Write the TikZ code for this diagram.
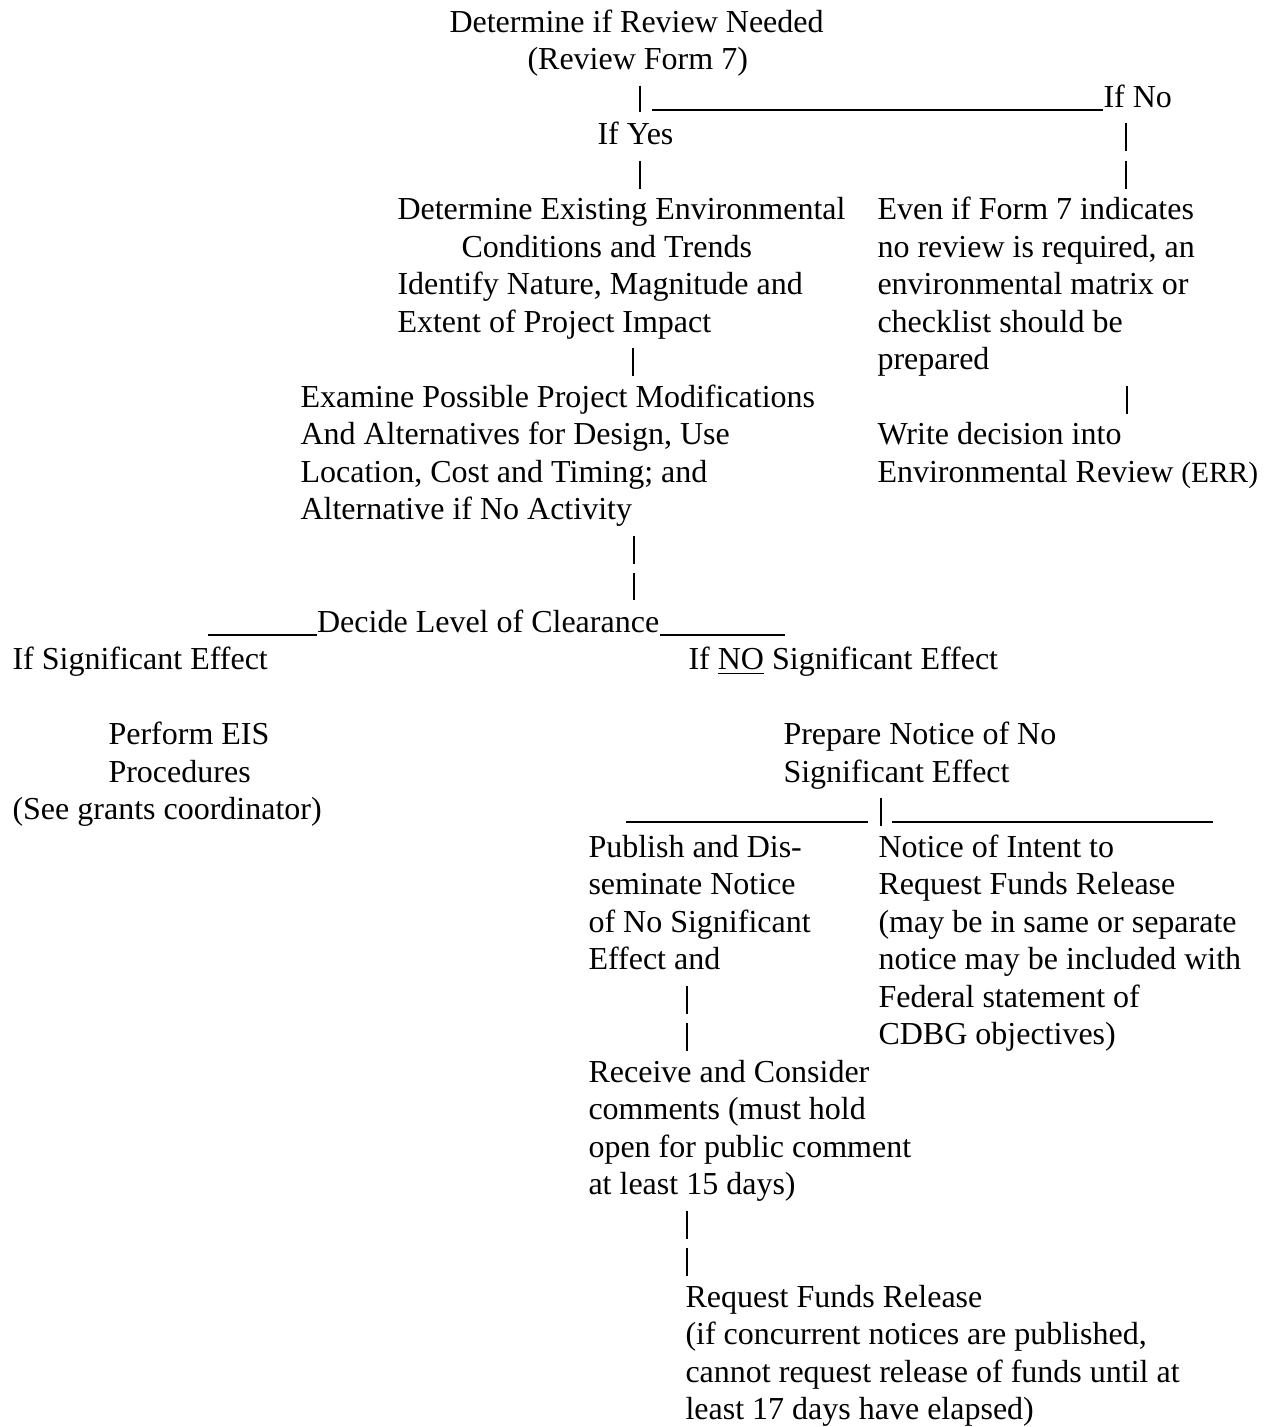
\documentclass[tikz,border=0pt]{standalone}
\usepackage{fontspec}
\setmainfont{Liberation Serif}
\usetikzlibrary{calc}
\definecolor{ink}{RGB}{0, 0, 0}

\begin{document}
\begin{tikzpicture}[
    x=0.375pt, y=-0.375pt,
    txt/.style={anchor=base west, inner sep=0pt, align=left, text=ink, font=\fontsize{12}{14.06}\selectfont, execute at begin node=\strut, execute at end node=\strut},
    bar/.style={draw=ink, line width=0.65pt, shorten <=1.6pt, shorten >=1.97pt, dash pattern=on 10.5pt off 3.56pt},
    uline/.style={draw=ink, line width=0.7pt}
  ]
    \fill[white] (0,0) rectangle (1266,1427);
    \useasboundingbox (0,0) rectangle (1266,1427);

    % Top decision (nodes sit on the baseline of their last line)
    \node[txt] (review) at (449,69.5) {Determine if Review Needed\\\hspace*{29.25pt}(Review Form 7)};
    \node[txt] (ifno) at (1103,107) {If No};
    \node[txt] (ifyes) at (597,144.5) {If Yes};

    % Review needed branch
    \node[txt] (existing) at (397,332) {Determine Existing Environmental\\\hspace*{24pt}Conditions and Trends\\Identify Nature, Magnitude and\\Extent of Project Impact};
    \node[txt] (examine) at (300,519.5) {Examine Possible Project Modifications\\And Alternatives for Design, Use\\Location, Cost and Timing; and\\Alternative if No Activity};

    % No review branch
    \node[txt] (evenif) at (877,369.5) {Even if Form 7 indicates\\no review is required, an\\environmental matrix or\\checklist should be\\prepared};
    \node[txt] (writeerr) at (877,482) {Write decision into\\Environmental Review {\fontsize{11}{13}\selectfont(ERR)}};

    % Clearance level
    \node[txt] (decide) at (316.6,632) {Decide Level of Clearance};
    \node[txt] (ifsig) at (12,669.5) {If Significant Effect};
    \node[txt] (ifnosig) at (688,669.5) {If \underline{NO} Significant Effect};
    \node[txt] (eis) at (108,782) {Perform EIS\\Procedures};
    \node[txt] (grants) at (12,819.5) {(See grants coordinator)};
    \node[txt] (prepare) at (783,782) {Prepare Notice of No\\Significant Effect};

    % No significant effect steps
    \node[txt] (publish) at (588,969.5) {Publish and Dis-\\seminate Notice\\of No Significant\\Effect and};
    \node[txt] (intent) at (878,1044.5) {Notice of Intent to\\Request Funds Release\\(may be in same or separate\\notice may be included with\\Federal statement of\\CDBG objectives)};
    \node[txt] (receive) at (588,1194.5) {Receive and Consider\\comments (must hold\\open for public comment\\at least 15 days)};
    \node[txt] (request) at (685,1419.5) {Request Funds Release\\(if concurrent notices are published,\\cannot request release of funds until at\\least 17 days have elapsed)};

    \coordinate (fork) at (881,822);

    % Connectors
    \draw[bar] (review.south -| 640,0) -- (ifyes.north -| 640,0);
    \draw[bar] (ifyes.south -| 640,0) -- (existing.north -| 640,0);
    \draw[uline] ([yshift=-1.1pt]ifno.base west) -- ++(-451,0);
    \draw[bar] (ifno.south -| 1126,0) -- (evenif.north -| 1126,0);
    \draw[bar] (existing.south -| 633,0) -- (examine.north -| 633,0);
    \draw[bar] (evenif.south -| 1127,0) -- (writeerr.north -| 1127,0);
    \draw[bar] (examine.south -| 634,0) -- (decide.north -| 634,0);
    \draw[uline] ([yshift=-1.1pt]decide.base west) -- ++(-109,0);
    \draw[uline] ([yshift=-1.1pt]decide.base east) -- ++(125,0);
    \draw[bar] (prepare.south -| fork) -- (intent.north -| fork);
    \draw[uline] ([xshift=-4.9pt]fork) -- ++(-242,0);
    \draw[uline] ([xshift=4.1pt]fork) -- ++(321,0);
    \draw[bar] (publish.south -| 687,0) -- (receive.north -| 687,0);
    \draw[bar] (receive.south -| 687,0) -- (request.north -| 687,0);
\end{tikzpicture}
\end{document}
